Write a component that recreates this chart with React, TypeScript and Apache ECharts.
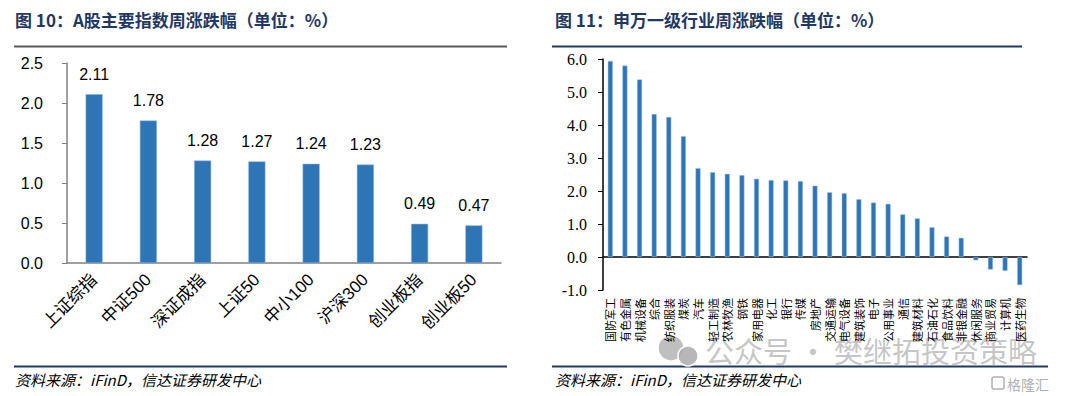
import React, { useEffect, useRef } from "react";
import * as echarts from "echarts";

// ---- Left chart data: A-share major indices weekly change (%)
const indexNames = ["上证综指", "中证500", "深证成指", "上证50", "中小100", "沪深300", "创业板指", "创业板50"];
const indexChanges = [2.11, 1.78, 1.28, 1.27, 1.24, 1.23, 0.49, 0.47];
const leftAxisMin = 0;
const leftAxisMax = 2.5;
const leftAxisStep = 0.5;

// ---- Right chart data: Shenwan level-1 industries weekly change (%)
const industryNames = [
  "国防军工", "有色金属", "机械设备", "综合", "纺织服装", "煤炭", "汽车", "轻工制造", "农林牧渔", "钢铁",
  "家用电器", "化工", "银行", "传媒", "房地产", "交通运输", "电气设备", "建筑装饰", "电子", "公用事业",
  "通信", "建筑材料", "石油石化", "食品饮料", "非银金融", "休闲服务", "商业贸易", "计算机", "医药生物",
];
const industryChanges = [
  5.94, 5.8, 5.38, 4.33, 4.24, 3.66, 2.69, 2.57, 2.52, 2.48,
  2.37, 2.33, 2.32, 2.3, 2.16, 1.96, 1.93, 1.75, 1.65, 1.61,
  1.29, 1.17, 0.9, 0.62, 0.58, -0.1, -0.38, -0.42, -0.85,
];
const rightAxisMin = -1;
const rightAxisMax = 6;
const rightAxisStep = 1;

const leftTitle = "图 10：A股主要指数周涨跌幅（单位：%）";
const rightTitle = "图 11：申万一级行业周涨跌幅（单位：%）";
const sourceText = "资料来源：iFinD，信达证券研发中心";
const watermarkText = "公众号 · 樊继拓投资策略";
const logoText = "格隆汇";

const BAR = "#2E75B6";
const NAVY = "#1F3864";
const CJK = "'Noto Sans CJK SC', sans-serif";
const SANS = "'Liberation Sans', 'Noto Sans CJK SC', sans-serif";
const SERIF = "'Liberation Serif', 'Noto Sans CJK SC', serif";

export default function App() {
  const ref = useRef<HTMLDivElement>(null);

  useEffect(() => {
    if (!ref.current) return;
    const chart = echarts.init(ref.current, undefined, { renderer: "svg" });

    const option: any = {
      animation: false,
      backgroundColor: "#ffffff",
      grid: [
        { left: 67, top: 63, width: 434, height: 200, containLabel: false },
        { left: 603, top: 59, width: 424, height: 231, containLabel: false },
      ],
      xAxis: [
        {
          type: "category",
          gridIndex: 0,
          data: indexNames,
          axisLine: { show: true, lineStyle: { color: "#808080", width: 1.5 } },
          axisTick: { show: false },
          axisLabel: {
            rotate: 45,
            margin: 14,
            fontSize: 17,
            fontFamily: SANS,
            color: "#000",
            interval: 0,
          },
        },
        {
          type: "category",
          gridIndex: 1,
          data: industryNames,
          axisLine: { show: true, onZero: true, lineStyle: { color: "#000", width: 1.5 } },
          axisTick: { show: false },
          axisLabel: { show: false },
        },
        {
          type: "category",
          gridIndex: 1,
          position: "bottom",
          data: industryNames,
          axisLine: { show: false, onZero: false },
          axisTick: { show: false },
          axisLabel: {
            rotate: 90,
            margin: 8,
            fontSize: 11,
            fontFamily: CJK,
            color: "#000",
            interval: 0,
          },
        },
      ],
      yAxis: [
        {
          type: "value",
          gridIndex: 0,
          min: leftAxisMin,
          max: leftAxisMax,
          interval: leftAxisStep,
          axisLine: { show: true, lineStyle: { color: "#808080", width: 1.5 } },
          axisTick: { show: true, length: 5, lineStyle: { color: "#808080" } },
          splitLine: { show: false },
          axisLabel: {
            margin: 24,
            fontSize: 16,
            fontFamily: SANS,
            color: "#000",
            formatter: (v: number) => v.toFixed(1),
          },
        },
        {
          type: "value",
          gridIndex: 1,
          min: rightAxisMin,
          max: rightAxisMax,
          interval: rightAxisStep,
          axisLine: { show: true, lineStyle: { color: "#000", width: 1.5 } },
          axisTick: { show: true, length: 5, lineStyle: { color: "#000" } },
          splitLine: { show: false },
          axisLabel: {
            margin: 16,
            fontSize: 16,
            fontFamily: SERIF,
            color: "#000",
            formatter: (v: number) => v.toFixed(1),
          },
        },
      ],
      series: [
        {
          type: "bar",
          xAxisIndex: 0,
          yAxisIndex: 0,
          data: indexChanges,
          barWidth: 17,
          itemStyle: { color: BAR, borderColor: "#8DB4E2", borderWidth: 0.5 },
          label: {
            show: true,
            position: "top",
            distance: 12,
            fontSize: 16,
            fontFamily: SANS,
            color: "#000",
            formatter: (p: any) => p.value.toFixed(2),
          },
        },
        {
          type: "bar",
          xAxisIndex: 1,
          yAxisIndex: 1,
          data: industryChanges,
          barWidth: 5,
          itemStyle: { color: BAR, borderColor: "#9DC3E6", borderWidth: 0.5 },
        },
      ],
      graphic: [
        // titles
        { type: "text", x: 15, y: 19, style: { text: leftTitle, fontSize: 17, fontWeight: "bold", fontFamily: CJK, fill: NAVY, verticalAlign: "middle" } },
        { type: "text", x: 555, y: 19, style: { text: rightTitle, fontSize: 17, fontWeight: "bold", fontFamily: CJK, fill: NAVY, verticalAlign: "middle" } },
        // title rules
        { type: "line", shape: { x1: 14, y1: 46.5, x2: 507, y2: 46.5 }, style: { stroke: "#595959", lineWidth: 2 } },
        { type: "line", shape: { x1: 552, y1: 46.5, x2: 1022, y2: 46.5 }, style: { stroke: NAVY, lineWidth: 2 } },
        // bottom rules
        { type: "line", shape: { x1: 14, y1: 366.5, x2: 507, y2: 366.5 }, style: { stroke: NAVY, lineWidth: 2 } },
        { type: "line", shape: { x1: 552, y1: 366.5, x2: 1048, y2: 366.5 }, style: { stroke: NAVY, lineWidth: 2 } },
        // sources
        { type: "text", x: 15, y: 379, style: { text: sourceText, fontSize: 15, fontStyle: "italic", fontFamily: CJK, fill: "#000", verticalAlign: "middle" } },
        { type: "text", x: 555, y: 379, style: { text: sourceText, fontSize: 15, fontStyle: "italic", fontFamily: CJK, fill: "#000", verticalAlign: "middle" } },
        // watermark
        { type: "circle", shape: { cx: 671, cy: 348, r: 13 }, style: { fill: "rgba(170,170,170,0.75)", stroke: "#fff", lineWidth: 1.5 } },
        { type: "circle", shape: { cx: 688, cy: 356, r: 10 }, style: { fill: "rgba(170,170,170,0.85)", stroke: "#fff", lineWidth: 1.5 } },
        { type: "text", x: 705, y: 350, style: { text: watermarkText, fontSize: 29, fontFamily: CJK, fill: "rgba(160,160,160,0.6)", verticalAlign: "middle" } },
        // logo
        { type: "rect", shape: { x: 992, y: 377, width: 12, height: 12, r: 2 }, style: { fill: "none", stroke: "#b0b0b0", lineWidth: 1.5 } },
        { type: "text", x: 1007, y: 384, style: { text: logoText, fontSize: 14, fontFamily: CJK, fill: "#b0b0b0", verticalAlign: "middle" } },
      ],
    };

    chart.setOption(option);
    return () => chart.dispose();
  }, []);

  return (
    <div
      ref={ref}
      style={{ position: "fixed", left: 0, top: 0, width: 1080, height: 396 }}
    />
  );
}
